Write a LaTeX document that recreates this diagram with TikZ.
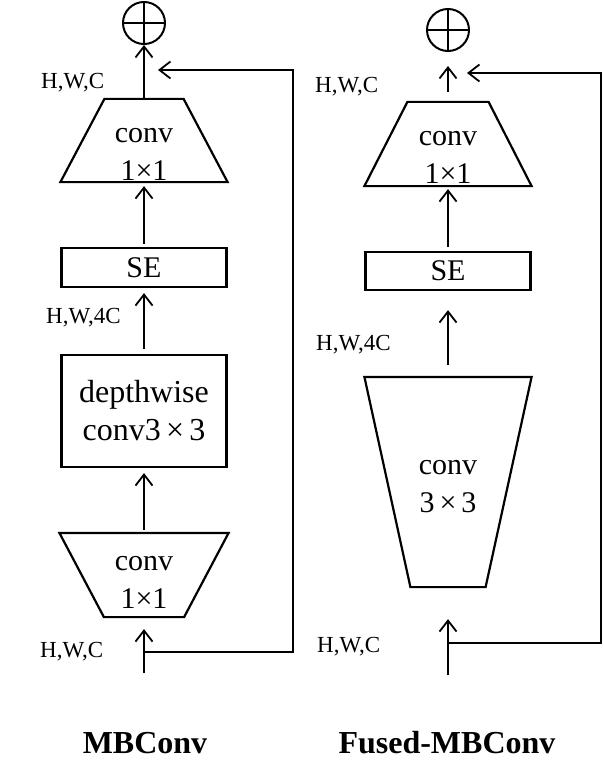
\documentclass[tikz,border=0pt]{standalone}
\usepackage{fontspec}
\setmainfont{Liberation Serif}
\usetikzlibrary{arrows.meta}

\newcommand{\lowered}[2]{\raisebox{-#1}[\height][\depth]{\begin{tabular}{@{}c@{}}#2\end{tabular}}}
\newcommand{\trapbox}[3]{\draw [line width=2.2pt] ([xshift=#2]#1.north west) -- ([xshift=-#2]#1.north east)
    -- ([xshift=-#3]#1.south east) -- ([xshift=#3]#1.south west) -- cycle;}

\tikzset{
    blk/.style={draw, line width=2.2pt, minimum width=165pt, inner sep=0pt, align=center, font=\fontsize{30}{38}\selectfont},
    trap/.style={blk, draw=none},
    addop/.style={draw, circle, line width=2pt, minimum size=42pt, inner sep=0pt,
        path picture={\draw [line width=2pt] (path picture bounding box.north) -- (path picture bounding box.south)
            (path picture bounding box.east) -- (path picture bounding box.west);}},
    dims/.style={anchor=base west, inner sep=0pt, font=\fontsize{23}{23}\selectfont},
    blockname/.style={anchor=base, inner sep=0pt, font=\bfseries\fontsize{32}{32}\selectfont},
    flow/.style={line width=1.8pt, ->, >={Straight Barb[length=11pt, width=17pt]}}
}

\begin{document}
\begin{tikzpicture}[x=1pt, y=-1pt]
        \useasboundingbox (0,0) rectangle (604,765);

        \node [addop] (addL) at (144,23) {};
        \node [trap, minimum height=81pt] (outL) at (144,140.5) {\lowered{13pt}{conv\\1×1}};
        \node [blk, minimum height=39pt] (seL) at (144,267.5) {SE};
        \node [blk, minimum height=112pt, font=\fontsize{32}{38}\selectfont] (dwL) at (144,411) {depthwise\\conv3\,×\,3};
        \node [trap, minimum width=167pt, minimum height=82pt] (inpL) at (144,575) {\lowered{7pt}{conv\\1×1}};
        \trapbox{outL}{44pt}{0pt}
        \trapbox{inpL}{0pt}{44.5pt}
        \coordinate (inL) at (144,673);
        \coordinate (jL) at (144,652);
        \coordinate (rL) at (293,652);
        \coordinate (aL) at (158,70);

        \node [dims] (d1L) at (41,89) {H,W,C};
        \node [dims] (d2L) at (46,323) {H,W,4C};
        \node [dims] (d3L) at (40,657) {H,W,C};
        \node [blockname] (nameL) at (145,753) {MBConv};

        \draw [flow, shorten >=12pt] (inL) -- (inpL.south);
        \draw [flow, shorten <=3pt, shorten >=5pt] (inpL.north) -- (dwL.south);
        \draw [flow, shorten <=5pt, shorten >=5pt] (dwL.north) -- (seL.south);
        \draw [flow, shorten <=3pt, shorten >=4pt] (seL.north) -- (outL.south);
        \draw [flow] (outL.north) -- (addL.south);
        \draw [flow] (jL) -- (rL) |- (aL);

        \node [addop] (addR) at (448,30) {};
        \node [trap, minimum height=82pt] (outR) at (448,144) {\lowered{13pt}{conv\\1×1}};
        \node [blk, minimum height=38pt] (seR) at (448,271) {SE};
        \node [trap, minimum height=208pt] (bigR) at (448,482) {\lowered{4pt}{conv\\3\,×\,3}};
        \trapbox{outR}{43pt}{0pt}
        \trapbox{bigR}{0pt}{46pt}
        \coordinate (inR) at (448,675);
        \coordinate (jR) at (448,643);
        \coordinate (rR) at (601,643);
        \coordinate (aR) at (467,73);

        \node [dims] (d1R) at (315,93) {H,W,C};
        \node [dims] (d2R) at (316,350) {H,W,4C};
        \node [dims] (d3R) at (317,652) {H,W,C};
        \node [blockname] (nameR) at (447,753) {Fused-MBConv};

        \draw [flow, shorten >=32pt] (inR) -- (bigR.south);
        \draw [flow, shorten <=12pt, shorten >=19pt] (bigR.north) -- (seR.south);
        \draw [flow, shorten <=4pt, shorten >=3pt] (seR.north) -- (outR.south);
        \draw [flow, shorten <=10pt, shorten >=14pt] (outR.north) -- (addR.south);
        \draw [flow] (jR) -- (rR) |- (aR);
    \end{tikzpicture}
\end{document}
